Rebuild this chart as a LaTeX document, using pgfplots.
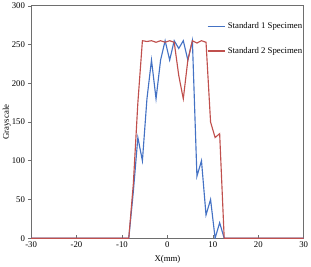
\documentclass[border=0pt]{standalone}
\usepackage{pgfplots}
\pgfplotsset{compat=1.18}
\usepackage{fontspec}
\setmainfont{Liberation Serif}
\definecolor{sblue}{RGB}{68,114,196}
\definecolor{sred}{RGB}{192,80,77}
\definecolor{axgray}{RGB}{110,110,110}
\begin{document}
\fontsize{8.5}{10}\selectfont
\begin{tikzpicture}
\begin{axis}[
  scale only axis,
  width=264bp, height=225bp,
  xmin=-30, xmax=30, ymin=0, ymax=300,
  xtick={-30,-20,...,30}, ytick={0,50,...,300},
  axis line style={axgray, line width=0.8pt},
  tick style={axgray, line width=0.6pt},
  xtick pos=bottom, ytick pos=left,
  xtick align=inside, ytick align=outside,
  major tick length=3pt,
  tick label style={font=\fontsize{8.5}{10}\selectfont},
  /pgf/number format/assume math mode=true,
  xlabel={X(mm)}, ylabel={Grayscale},
  label style={font=\fontsize{8.5}{10}\selectfont},
  xlabel style={yshift=-2pt},
  ylabel style={yshift=-5pt},
  legend style={at={(0.641,0.943)}, anchor=north west, draw=none, fill=none,
    font=\fontsize{8.5}{10}\selectfont, row sep=13pt, inner sep=1pt},
  legend cell align=left,
  every axis plot/.append style={line width=1.1pt},
]
\addplot[sblue, mark=none] coordinates {
(-30,0) (-8.5,0) (-7.5,60) (-6.5,130) (-5.5,100) (-4.5,180) (-3.5,230) (-2.5,180)
(-1.5,230) (-0.5,255) (0.5,230) (1.5,255) (2.5,245) (3.5,255) (4.5,230) (5.5,255)
(6.5,80) (7.5,100) (8.5,30) (9.5,50) (10.5,0) (11.5,20) (12.5,0) (30,0)};
\addlegendentry{Standard 1 Specimen}
\addplot[sred, mark=none] coordinates {
(-30,0) (-8.5,0) (-7.5,70) (-6.5,175) (-5.5,255) (-4.5,254) (-3.5,255) (-2.5,253)
(-1.5,255) (-0.5,253) (0.5,255) (1.5,253) (2.5,210) (3.5,180) (4.5,230) (5.5,255)
(6.5,252) (7.5,255) (8.5,253) (9.5,150) (10.5,130) (11.5,135) (12.5,0) (30,0)};
\addlegendentry{Standard 2 Specimen}
\end{axis}
\end{tikzpicture}
\end{document}
